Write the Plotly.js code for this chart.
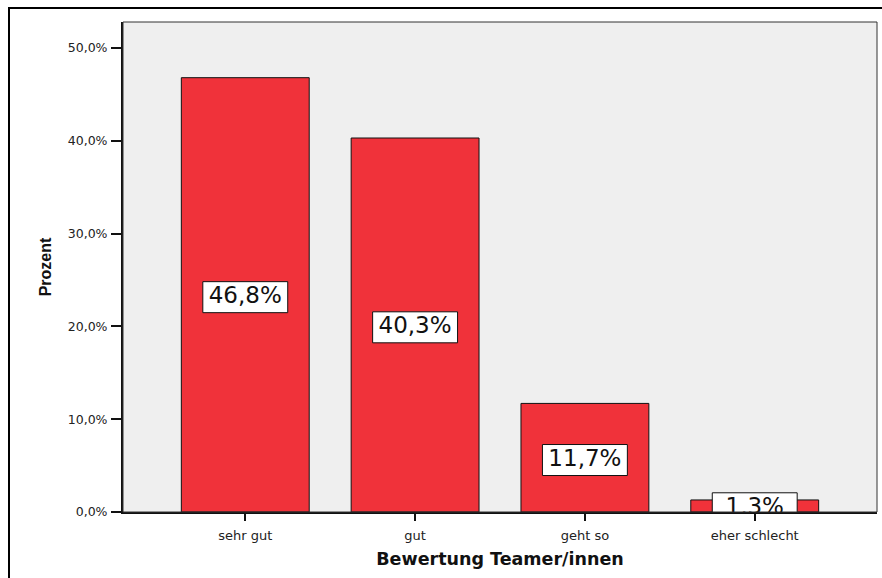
<!DOCTYPE html>
<html>
<head>
<meta charset="utf-8">
<script src="https://cdn.plot.ly/plotly-3.0.1.min.js"></script>
<style>
  html, body { margin: 0; padding: 0; background: #ffffff; }
  #wrap { position: relative; width: 882px; height: 578px; overflow: hidden; }
  #chart { position: absolute; left: 0; top: 0; width: 882px; height: 578px; }
  #frame { position: absolute; left: 8px; top: 7px; width: 900px; height: 600px;
           border-top: 2px solid #000; border-left: 2px solid #000; pointer-events: none; }
</style>
</head>
<body>
<div id="wrap">
  <div id="chart"></div>
  <div id="frame"></div>
</div>
<script>
const categories = ['sehr gut', 'gut', 'geht so', 'eher schlecht'];
const percents = [46.8, 40.3, 11.7, 1.3];
const valueLabels = ['46,8%', '40,3%', '11,7%', '1,3%'];
const yTickValues = [0, 10, 20, 30, 40, 50];
const yTickLabels = ['0,0%', '10,0%', '20,0%', '30,0%', '40,0%', '50,0%'];

const boxHeight = 3.34;
const mids = percents.map(v => v / 2 - 0.25);

const ARIAL = '"Liberation Sans", Arial, sans-serif';
const WIDE = '"DejaVu Sans", Verdana, sans-serif';

const bars = {
  type: 'bar',
  x: categories,
  y: percents,
  width: 0.753,
  marker: { color: '#f0323a', line: { color: '#111111', width: 1 } },
  hoverinfo: 'skip'
};

const boxes = {
  type: 'bar',
  x: categories,
  y: percents.map(() => boxHeight),
  base: mids.map(m => m - boxHeight / 2),
  width: 0.5,
  marker: { color: '#ffffff', line: { color: '#111111', width: 1 } },
  hoverinfo: 'skip'
};

const texts = {
  type: 'scatter',
  mode: 'text',
  x: categories,
  y: mids,
  text: valueLabels,
  textposition: 'middle center',
  textfont: { family: WIDE, size: 23, color: '#111111' },
  cliponaxis: true,
  hoverinfo: 'skip'
};

const layout = {
  width: 882,
  height: 578,
  margin: { l: 123, r: 5, t: 22, b: 66 },
  paper_bgcolor: 'rgba(0,0,0,0)',
  plot_bgcolor: '#efefef',
  showlegend: false,
  barmode: 'overlay',
  font: { family: WIDE, color: '#222222' },
  xaxis: {
    type: 'category',
    range: [-0.72, 3.72],
    showline: true, linecolor: '#111111', linewidth: 2,
    ticks: 'outside', ticklen: 7, tickwidth: 2, tickcolor: '#111111',
    tickfont: { family: WIDE, size: 13, color: '#222222' },
    ticklabelstandoff: 3,
    showgrid: false, zeroline: false,
    title: { text: 'Bewertung Teamer/innen', font: { family: WIDE, size: 17.5, color: '#111111', weight: 'bold' }, standoff: 11 }
  },
  yaxis: {
    range: [0, 52.8],
    tickvals: yTickValues,
    ticktext: yTickLabels,
    showline: true, linecolor: '#111111', linewidth: 2,
    ticks: 'outside', ticklen: 10, tickwidth: 2, tickcolor: '#111111',
    tickfont: { family: WIDE, size: 12.5, color: '#222222' },
    ticklabelstandoff: 1,
    showgrid: false, zeroline: false,
    title: { text: 'Prozent', font: { family: ARIAL, size: 16, color: '#111111', weight: 'bold' }, standoff: 12 }
  },
  shapes: [{
    type: 'rect', xref: 'paper', yref: 'paper', x0: 0, x1: 1, y0: 0, y1: 1,
    line: { color: '#333333', width: 1 }, fillcolor: 'rgba(0,0,0,0)', layer: 'above'
  }]
};

Plotly.newPlot('chart', [bars, boxes, texts], layout, { displayModeBar: false, staticPlot: true });
</script>
</body>
</html>
